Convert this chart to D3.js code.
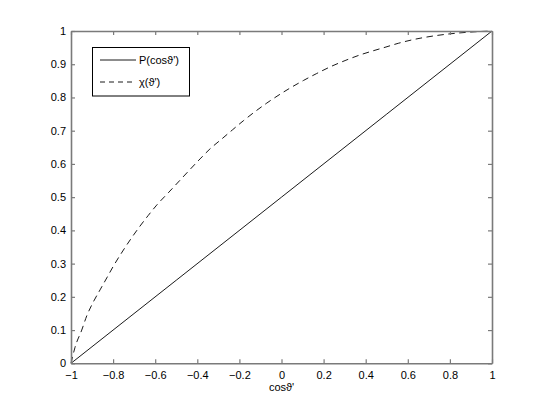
<!DOCTYPE html>
<html>
<head>
<meta charset="utf-8">
<script src="https://cdn.jsdelivr.net/npm/d3@7"></script>
<style>
  html, body { margin: 0; padding: 0; background: #fff; }
  svg { display: block; }
  text { font-family: "Liberation Sans", Arial, Helvetica, sans-serif; fill: #000; }
</style>
</head>
<body>
<svg id="chart" width="545" height="410"></svg>
<script>
// ---- data ----
const xTicks = [-1, -0.8, -0.6, -0.4, -0.2, 0, 0.2, 0.4, 0.6, 0.8, 1];
const yTicks = [0, 0.1, 0.2, 0.3, 0.4, 0.5, 0.6, 0.7, 0.8, 0.9, 1];
const xTickLabels = ["\u22121", "\u22120.8", "\u22120.6", "\u22120.4", "\u22120.2", "0", "0.2", "0.4", "0.6", "0.8", "1"];
const yTickLabels = ["0", "0.1", "0.2", "0.3", "0.4", "0.5", "0.6", "0.7", "0.8", "0.9", "1"];

const pX = [-1, -0.5, 0, 0.5, 1];
const pY = [0, 0.25, 0.5, 0.75, 1];

const chiX = [-1, -0.981, -0.949, -0.925, -0.897, -0.862, -0.830, -0.799, -0.754, -0.715, -0.672, -0.633,
              -0.593, -0.538, -0.485, -0.435, -0.387, -0.340, -0.284, -0.232, -0.181, -0.070, 0.040,
              0.104, 0.167, 0.238, 0.302, 0.373, 0.428, 0.492, 0.555, 0.618, 0.682, 0.78, 0.88, 1];
const chiY = [0, 0.048, 0.1, 0.143, 0.181, 0.221, 0.257, 0.292, 0.338, 0.375, 0.413, 0.445,
              0.476, 0.513, 0.549, 0.583, 0.615, 0.645, 0.675, 0.703, 0.730, 0.783, 0.828,
              0.851, 0.872, 0.894, 0.911, 0.928, 0.939, 0.951, 0.963, 0.973, 0.981, 0.990, 0.996, 1];

const seriesNames = ["P(cos\u03D1')", "\u03C7(\u03D1')"];
const xLabel = "cos\u03D1'";

// ---- layout ----
const svg = d3.select("#chart");
const L = 71, R = 492, T = 31, B = 363.3;
const x = d3.scaleLinear().domain([-1, 1]).range([L, R]);
const y = d3.scaleLinear().domain([0, 1]).range([B, T]);
const FS = 11;
const FONT = "'Liberation Sans', Arial, Helvetica, sans-serif";

svg.append("rect").attr("width", 545).attr("height", 410).attr("fill", "#fff");

const axisColor = "#7a7a7a";
const tickLen = 4;

// curves
const line = d3.line().x(d => x(d[0])).y(d => y(d[1])).curve(d3.curveMonotoneX);
svg.append("path")
  .attr("d", line(pX.map((v, i) => [v, pY[i]])))
  .attr("fill", "none").attr("stroke", "#000").attr("stroke-width", 0.9);
svg.append("path")
  .attr("d", line(chiX.map((v, i) => [v, chiY[i]])))
  .attr("fill", "none").attr("stroke", "#000").attr("stroke-width", 0.9)
  .attr("stroke-dasharray", "6.5,4.5");

// axes (box with inward ticks on all sides)
const fmtX = (d, i) => xTickLabels[i];
const fmtY = (d, i) => yTickLabels[i];

const gB = svg.append("g").attr("transform", `translate(0,${B})`)
  .call(d3.axisBottom(x).tickValues(xTicks).tickFormat(fmtX).tickSizeInner(-tickLen).tickSizeOuter(0).tickPadding(8));
const gT = svg.append("g").attr("transform", `translate(0,${T})`)
  .call(d3.axisTop(x).tickValues(xTicks).tickFormat("").tickSizeInner(-tickLen).tickSizeOuter(0));
const gL = svg.append("g").attr("transform", `translate(${L},0)`)
  .call(d3.axisLeft(y).tickValues(yTicks).tickFormat(fmtY).tickSizeInner(-tickLen).tickSizeOuter(0).tickPadding(5));
const gR = svg.append("g").attr("transform", `translate(${R},0)`)
  .call(d3.axisRight(y).tickValues(yTicks).tickFormat("").tickSizeInner(-tickLen).tickSizeOuter(0));

[gB, gT, gL, gR].forEach(g => {
  g.select(".domain").attr("stroke", axisColor).attr("stroke-width", 1.6);
  g.selectAll(".tick line").attr("stroke", axisColor).attr("stroke-width", 1.2);
  g.selectAll("text").attr("font-size", FS).attr("fill", "#000").attr("font-family", FONT);
});

// x label
svg.append("text").attr("x", x(0)).attr("y", 391).attr("text-anchor", "middle")
  .attr("font-size", FS).attr("font-family", FONT).text(xLabel);

// legend
const lg = svg.append("g");
lg.append("rect").attr("x", 92.5).attr("y", 47.5).attr("width", 97).attr("height", 48.5)
  .attr("fill", "#fff").attr("stroke", "#000").attr("stroke-width", 1);
const legendRows = [{ name: seriesNames[0], dash: null, yy: 60 }, { name: seriesNames[1], dash: "5,4", yy: 82 }];
legendRows.forEach(r => {
  const ln = lg.append("line").attr("x1", 100).attr("x2", 136).attr("y1", r.yy).attr("y2", r.yy)
    .attr("stroke", "#000").attr("stroke-width", 0.9);
  if (r.dash) ln.attr("stroke-dasharray", r.dash);
  lg.append("text").attr("x", 139).attr("y", r.yy + 4).attr("font-size", FS).attr("font-family", FONT).text(r.name);
});
</script>
</body>
</html>
